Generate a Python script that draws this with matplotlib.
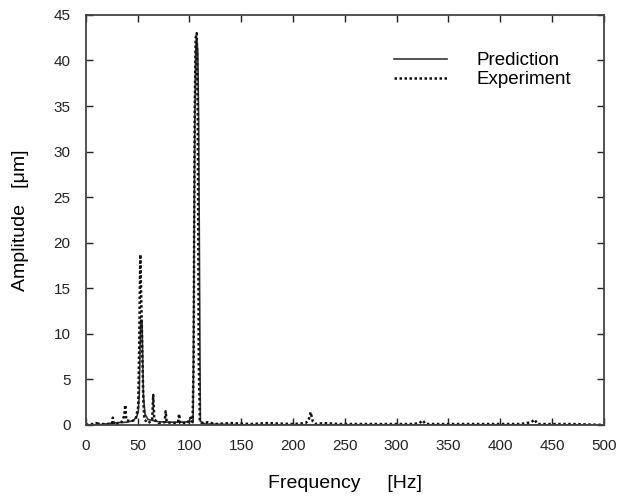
import matplotlib

matplotlib.use("Agg")
import matplotlib.pyplot as plt

plt.rcParams["font.family"] = ["Liberation Sans", "DejaVu Sans"]

# --- Prediction (solid) ------------------------------------------------------
pred_freq = [0, 15, 22, 30, 40, 46, 49, 50.5, 51.5, 52.2, 52.8, 54.2, 54.8,
             55.5, 57, 60, 70, 80, 90, 100, 103.5, 104.5, 105.2, 106, 107,
             108, 108.8, 109.5, 110.5, 115, 150, 500]
pred_amp = [0, 0.05, 0.15, 0.25, 0.3, 0.5, 0.9, 1.4, 3.3, 7.5, 11.5, 11.5,
            7.5, 3.3, 1.2, 0.6, 0.35, 0.3, 0.3, 0.35, 0.5, 20.5, 34.0, 41.0,
            42.5, 41.0, 34.0, 20.5, 0.4, 0.1, 0.02, 0]

# --- Experiment (dotted) -----------------------------------------------------
exp_freq = [0, 5, 10, 11, 12, 20, 25, 26, 27, 34, 37, 38, 39, 44, 48, 50.5,
            51.5, 52.5, 53.5, 54.5, 55.5, 56.5, 60, 64, 65, 66, 70, 76, 77, 78,
            85, 89, 90, 91, 98, 101, 103, 104, 105, 106, 107, 108, 109, 110,
            112, 118, 125, 140, 160, 175, 200, 212, 215, 217, 219, 222, 230,
            245, 270, 300, 315, 322, 325, 328, 340, 380, 420, 430, 433, 436,
            445, 470, 500]
exp_amp = [0, 0.1, 0.1, 0.4, 0.1, 0.1, 0.1, 0.8, 0.1, 0.2, 1.0, 2.2, 0.5,
           0.4, 0.6, 2.0, 9.0, 18.7, 13.5, 7.5, 2.5, 0.6, 0.2, 0.5, 3.3, 0.6,
           0.2, 0.3, 1.5, 0.3, 0.2, 0.3, 1.2, 0.2, 0.2, 0.8, 0.3, 7.0, 34.0,
           42.5, 43.0, 34.0, 7.0, 0.4, 0.2, 0.3, 0.1, 0.2, 0.1, 0.2, 0.1, 0.2,
           0.5, 1.4, 0.4, 0.1, 0.2, 0.1, 0.1, 0.1, 0.1, 0.2, 0.5, 0.1, 0.1,
           0.1, 0.1, 0.3, 0.6, 0.1, 0.1, 0.1, 0]

x_ticks = list(range(0, 501, 50))
y_ticks = list(range(0, 46, 5))

fig = plt.figure(figsize=(6.18, 4.97), dpi=100)
ax = fig.add_axes([0.139, 0.145, 0.838, 0.825])

ax.plot(pred_freq, pred_amp, color="#333333", linewidth=1.2, label="Prediction")
ax.plot(exp_freq, exp_amp, color="#111111", linewidth=1.8,
        linestyle=(0, (1, 1)), label="Experiment")

ax.set_xlim(0, 500)
ax.set_ylim(0, 45)
ax.set_xticks(x_ticks)
ax.set_yticks(y_ticks)
ax.tick_params(direction="in", top=True, right=True, length=5, width=1,
               labelsize=11, colors="#222222")
ax.tick_params(axis="x", pad=10)
ax.tick_params(axis="y", pad=11)
for sp in ax.spines.values():
    sp.set_linewidth(1.3)
    sp.set_color("#444444")

ax.set_xlabel("Frequency     [Hz]", fontsize=14, labelpad=16)
ax.set_ylabel("Amplitude   [\u03bcm]", fontsize=14, labelpad=18)

ax.legend(loc="upper right", bbox_to_anchor=(0.97, 0.95), frameon=False,
          fontsize=13.5, handlelength=2.8, handletextpad=1.6, labelspacing=0.1)

fig.savefig("out.png", dpi=100)
